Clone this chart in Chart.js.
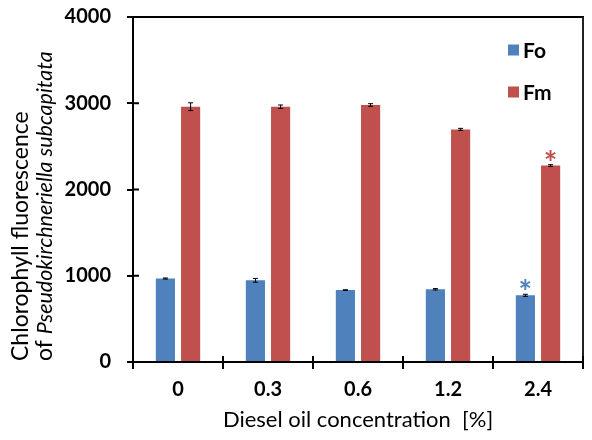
<!DOCTYPE html>
<html>
<head>
<meta charset="utf-8">
<title>Chlorophyll fluorescence</title>
<script src="https://cdn.jsdelivr.net/npm/chart.js@4.4.1/dist/chart.umd.min.js"></script>
<style>
  html, body { margin: 0; padding: 0; background: #fff; }
  #wrap { width: 592px; height: 440px; position: relative; }
</style>
</head>
<body>
<div id="wrap"><canvas id="chart"></canvas></div>
<script>
// data
const concentrations = ['0', '0.3', '0.6', '1.2', '2.4'];
const foValues = [968, 947, 834, 843, 773];
const fmValues = [2960, 2960, 2980, 2697, 2278];
const foErrors = [6, 22, 4, 8, 12];
const fmErrors = [45, 20, 15, 12, 10];
const foSignificant = [false, false, false, false, true];
const fmSignificant = [false, false, false, false, true];
const yTicks = [0, 1000, 2000, 3000, 4000];

const blue = '#4F81BD';
const red = '#C0504D';
const fontFamily = 'Lato, "Open Sans", sans-serif';

// error bars + significance stars
const errorBarPlugin = {
    id: 'errorBars',
    afterDatasetsDraw(chart) {
        const ctx = chart.ctx;
        const y = chart.scales.y;
        const errs = [foErrors, fmErrors];
        const sigs = [foSignificant, fmSignificant];
        chart.data.datasets.forEach((ds, di) => {
            const meta = chart.getDatasetMeta(di);
            meta.data.forEach((bar, i) => {
                const v = ds.data[i];
                const top = y.getPixelForValue(v + errs[di][i]);
                const bot = y.getPixelForValue(v - errs[di][i]);
                ctx.save();
                ctx.strokeStyle = '#000';
                ctx.lineWidth = 1;
                ctx.beginPath();
                ctx.moveTo(bar.x, top); ctx.lineTo(bar.x, bot);
                ctx.moveTo(bar.x - 2.5, top); ctx.lineTo(bar.x + 2.5, top);
                ctx.moveTo(bar.x - 2.5, bot); ctx.lineTo(bar.x + 2.5, bot);
                ctx.stroke();
                if (sigs[di][i]) {
                    // centre the star ~11px above the bar top
                    ctx.fillStyle = ds.backgroundColor;
                    ctx.font = 'bold 32px ' + fontFamily;
                    ctx.textAlign = 'center';
                    ctx.textBaseline = 'alphabetic';
                    const m = ctx.measureText('*');
                    const cy = bar.y - 11;
                    ctx.fillText('*', bar.x, cy + (m.actualBoundingBoxAscent - m.actualBoundingBoxDescent) / 2);
                }
                ctx.restore();
            });
        });
    }
};

// frame, inner tick halves, legend and y title
const decorPlugin = {
    id: 'decor',
    afterDraw(chart) {
        const ctx = chart.ctx;
        const a = chart.chartArea;
        const x = chart.scales.x;
        const y = chart.scales.y;
        ctx.save();
        // top and right border of the plot box
        ctx.fillStyle = '#000';
        ctx.fillRect(a.left - 6, a.top - 1, a.right - a.left + 7, 2);
        ctx.fillStyle = '#222';
        ctx.fillRect(a.right - 1, a.top, 2, a.bottom - a.top);
        // ticks crossing into the plot
        ctx.strokeStyle = '#000';
        ctx.lineWidth = 2;
        ctx.beginPath();
        yTicks.forEach(t => {
            const py = y.getPixelForValue(t);
            ctx.moveTo(a.left, py); ctx.lineTo(a.left + 6, py);
        });
        const step = x.getPixelForTick(1) - x.getPixelForTick(0);
        concentrations.forEach((c, i) => {
            const px = x.getPixelForTick(i) + step / 2;
            ctx.moveTo(px, a.bottom); ctx.lineTo(px, a.bottom - 6);
        });
        ctx.stroke();

        // legend
        ctx.font = 'bold 21px ' + fontFamily;
        ctx.textAlign = 'left';
        ctx.textBaseline = 'middle';
        chart.data.datasets.forEach((ds, i) => {
            const ly = a.top + 33 + i * 42;
            ctx.fillStyle = ds.backgroundColor;
            ctx.fillRect(a.left + 375, ly - 5.5, 11, 11);
            ctx.fillStyle = '#000';
            ctx.fillText(ds.label, a.left + 390, ly + 1);
        });

        // y axis title, two lines, species in italics
        ctx.rotate(-Math.PI / 2);
        ctx.fillStyle = '#000';
        ctx.textBaseline = 'middle';
        ctx.textAlign = 'left';
        ctx.font = '23px ' + fontFamily;
        ctx.fillText('Chlorophyll fluorescence', -361, 21);
        const pre = 'of ';
        ctx.fillText(pre, -361, 45);
        const w = ctx.measureText(pre).width;
        ctx.font = 'italic 21.5px ' + fontFamily;
        ctx.fillText('Pseudokirchneriella subcapitata', -361 + w, 45);
        ctx.restore();
    }
};

new Chart(document.getElementById('chart'), {
    type: 'bar',
    data: {
        labels: concentrations,
        datasets: [
            { label: 'Fo', data: foValues, backgroundColor: blue },
            { label: 'Fm', data: fmValues, backgroundColor: red }
        ]
    },
    options: {
        responsive: true,
        maintainAspectRatio: false,
        animation: false,
        devicePixelRatio: 1,
        categoryPercentage: 0.56,
        barPercentage: 0.76,
        layout: { padding: { top: 17, right: 9, left: 0, bottom: 0 } },
        plugins: {
            legend: { display: false },
            tooltip: { enabled: false }
        },
        scales: {
            x: {
                grid: { offset: true, drawOnChartArea: false, tickLength: 7, color: '#000', lineWidth: 2 },
                border: { color: '#000', width: 2 },
                ticks: { color: '#000', font: { family: fontFamily, size: 20, weight: 'bold' }, padding: 9 },
                title: { display: true, text: 'Diesel oil concentration  [%]', color: '#000',
                         font: { family: fontFamily, size: 22 }, padding: { top: 2, bottom: 7 } },
                afterFit(scale) { scale.height = 78; scale.paddingLeft = 0; scale.paddingRight = 0; }
            },
            y: {
                min: 0, max: 4000,
                afterBuildTicks(scale) { scale.ticks = yTicks.map(v => ({ value: v })); },
                grid: { drawOnChartArea: false, tickLength: 6, color: '#000', lineWidth: 2 },
                border: { color: '#000', width: 2 },
                ticks: { color: '#000', font: { family: fontFamily, size: 20, weight: 'bold' }, padding: 16,
                         callback: v => String(v) },
                afterFit(scale) { scale.width = 133; scale.paddingTop = 0; scale.paddingBottom = 0; }
            }
        }
    },
    plugins: [errorBarPlugin, decorPlugin]
});
</script>
</body>
</html>
